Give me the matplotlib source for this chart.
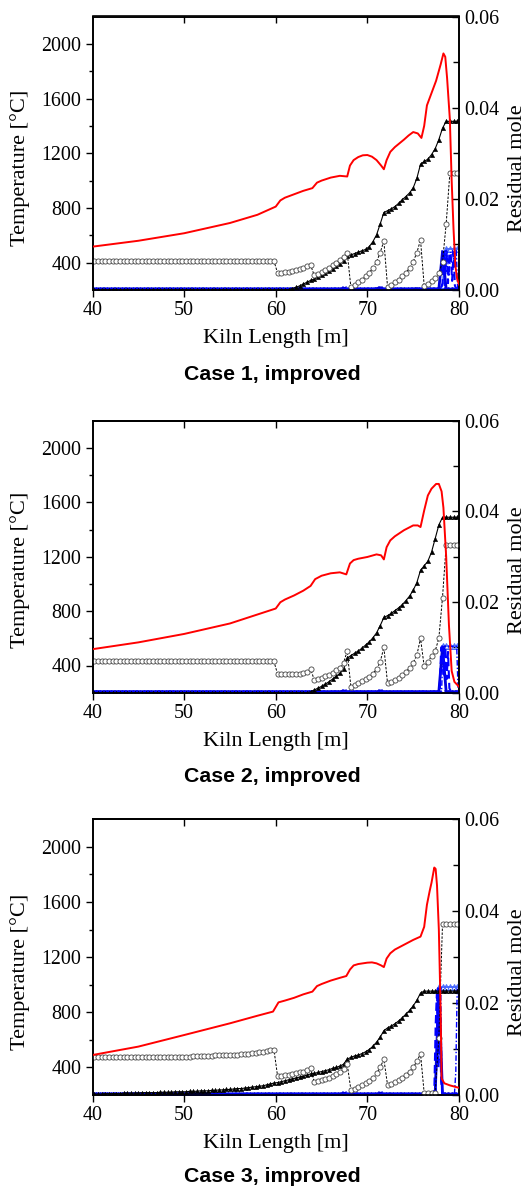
import numpy as np
import matplotlib
matplotlib.use("Agg")
import matplotlib.pyplot as plt
from matplotlib.ticker import FixedLocator

# ---------------- data ----------------
# sampling positions of the marker series (kiln length, m)
x_grid = np.round(np.arange(40.2, 79.81, 0.4), 1)

# ---- Case 1 ----
red_x1 = [40, 45, 50, 55, 58, 60, 60.5, 61, 62, 63, 64, 64.5, 65, 66, 67, 67.8, 68.1, 68.5, 69, 69.5,
          70, 70.5, 71, 71.5, 71.8, 72.1, 72.5, 73, 74, 74.5, 75, 75.5, 75.9, 76.2, 76.5, 77, 77.5, 78,
          78.3, 78.5, 78.7, 79.0, 79.2, 79.4, 79.6, 79.8, 80]
red_t1 = [517, 560, 615, 690, 750, 810, 855, 875, 900, 925, 945, 985, 1000, 1022, 1035, 1030, 1110, 1150, 1172, 1185,
          1187, 1175, 1150, 1110, 1083, 1150, 1210, 1245, 1300, 1330, 1355, 1345, 1312, 1400, 1550, 1640, 1730, 1850,
          1930, 1905, 1750, 1450, 1000, 650, 380, 280, 240]
circ1 = [0.0064, 0.0064, 0.0064, 0.0064, 0.0064, 0.0064, 0.0064, 0.0064, 0.0064, 0.0064,
         0.0064, 0.0064, 0.0064, 0.0064, 0.0064, 0.0064, 0.0064, 0.0064, 0.0064, 0.0064,
         0.0064, 0.0064, 0.0064, 0.0064, 0.0064, 0.0064, 0.0064, 0.0064, 0.0064, 0.0064,
         0.0064, 0.0064, 0.0064, 0.0064, 0.0064, 0.0064, 0.0064, 0.0064, 0.0064, 0.0064,
         0.0064, 0.0064, 0.0064, 0.0064, 0.0064, 0.0064, 0.0064, 0.0064, 0.0064, 0.0064,
         0.0037, 0.0038, 0.0039, 0.0040, 0.0042, 0.0044, 0.0046, 0.0049, 0.0052, 0.0055,
         0.0032, 0.0036, 0.0040, 0.0044, 0.0049, 0.0054, 0.0060, 0.0066, 0.0073, 0.0082,
         0.0006, 0.0012, 0.0017, 0.0023, 0.0030, 0.0038, 0.0048, 0.0062, 0.0082, 0.0108,
         0.0007, 0.0012, 0.0017, 0.0023, 0.0030, 0.0038, 0.0048, 0.0062, 0.0082, 0.0110,
         0.0009, 0.0014, 0.0020, 0.0027, 0.0037, 0.0062, 0.0145, 0.0256, 0.0256, 0.0256]
tri1 = [0.0, 0.0, 0.0, 0.0, 0.0, 0.0, 0.0, 0.0, 0.0, 0.0,
        0.0, 0.0, 0.0, 0.0, 0.0, 0.0, 0.0, 0.0, 0.0, 0.0,
        0.0, 0.0, 0.0, 0.0, 0.0, 0.0, 0.0, 0.0, 0.0, 0.0,
        0.0, 0.0, 0.0, 0.0, 0.0, 0.0, 0.0, 0.0, 0.0, 0.0,
        0.0, 0.0, 0.0, 0.0, 0.0, 0.0, 0.0, 0.0, 0.0, 0.0,
        0.0, 0.0, 0.0, 0.0001, 0.0003, 0.0006, 0.0009, 0.0013, 0.0017, 0.0021,
        0.0024, 0.0028, 0.0032, 0.0037, 0.0042, 0.0047, 0.0052, 0.0058, 0.0064, 0.0074,
        0.0077, 0.0080, 0.0083, 0.0086, 0.0089, 0.0095, 0.0106, 0.0121, 0.0145, 0.0170,
        0.0174, 0.0178, 0.0183, 0.0190, 0.0198, 0.0205, 0.0213, 0.0224, 0.0245, 0.0276,
        0.0282, 0.0287, 0.0297, 0.0310, 0.0330, 0.0355, 0.0370, 0.0370, 0.0370, 0.0370]
bx1 = [0.0002, 0.0002, 0.0002, 0.0002, 0.0002, 0.0002, 0.0002, 0.0002, 0.0002, 0.0002,
       0.0002, 0.0002, 0.0002, 0.0002, 0.0002, 0.0002, 0.0002, 0.0002, 0.0002, 0.0002,
       0.0002, 0.0002, 0.0002, 0.0002, 0.0002, 0.0002, 0.0002, 0.0002, 0.0002, 0.0002,
       0.0002, 0.0002, 0.0002, 0.0002, 0.0002, 0.0002, 0.0002, 0.0002, 0.0002, 0.0002,
       0.0002, 0.0002, 0.0002, 0.0002, 0.0002, 0.0002, 0.0002, 0.0002, 0.0002, 0.0002,
       0.0002, 0.0002, 0.0002, 0.0002, 0.0002, 0.0002, 0.0002, 0.0002, 0.0002, 0.0002,
       0.0002, 0.0002, 0.0002, 0.0002, 0.0002, 0.0002, 0.0002, 0.0002, 0.0004, 0.0002,
       0.0002, 0.0002, 0.0002, 0.0002, 0.0002, 0.0002, 0.0002, 0.0003, 0.0005, 0.0002,
       0.0002, 0.0002, 0.0002, 0.0002, 0.0002, 0.0002, 0.0002, 0.0002, 0.0003, 0.0002,
       0.0002, 0.0002, 0.0002, 0.0002, 0.0002, 0.0084, 0.0002, 0.0002, 0.0002, 0.0002]
btri1 = [0.0, 0.0, 0.0, 0.0, 0.0, 0.0, 0.0, 0.0, 0.0, 0.0,
         0.0, 0.0, 0.0, 0.0, 0.0, 0.0, 0.0, 0.0, 0.0, 0.0,
         0.0, 0.0, 0.0, 0.0, 0.0, 0.0, 0.0, 0.0, 0.0, 0.0,
         0.0, 0.0, 0.0, 0.0, 0.0, 0.0, 0.0, 0.0, 0.0, 0.0,
         0.0, 0.0, 0.0, 0.0, 0.0, 0.0, 0.0, 0.0, 0.0, 0.0,
         0.0, 0.0, 0.0, 0.0, 0.0, 0.0, 0.0, 0.0, 0.0, 0.0,
         0.0, 0.0, 0.0, 0.0, 0.0, 0.0, 0.0, 0.0, 0.0, 0.0,
         0.0, 0.0, 0.0, 0.0, 0.0, 0.0, 0.0, 0.0, 0.0, 0.0,
         0.0, 0.0, 0.0, 0.0, 0.0, 0.0, 0.0, 0.0, 0.0, 0.0,
         0.0, 0.0, 0.0, 0.0, 0.0, 0.0010, 0.0090, 0.0090, 0.0090, 0.0090]
dash_x1 = [40, 78.0, 78.2, 78.35, 78.5, 78.65, 78.8, 78.95, 79.1, 79.25, 79.4, 79.55, 79.7, 80]
dash_y1 = [0.0002, 0.0002, 0.0015, 0.0085, 0.0040, 0.0080, 0.0015, 0.0082, 0.0078, 0.0020, 0.0083, 0.0010, 0.0002, 0.0002]
dd_x1 = [40, 78.4, 78.55, 78.7, 78.9, 79.1, 79.3, 79.5, 79.7, 79.85, 80]
dd_y1 = [0.0001, 0.0001, 0.0086, 0.0086, 0.0030, 0.0086, 0.0086, 0.0050, 0.0086, 0.0005, 0.0001]

# ---- Case 2 ----
red_x2 = [40, 45, 50, 55, 58, 60, 60.5, 61, 62, 63, 63.8, 64.3, 65, 66, 67, 67.7, 68.1, 68.5, 69, 70,
          71, 71.5, 71.8, 72.1, 72.5, 73, 74, 75, 75.5, 75.8, 76.2, 76.6, 77, 77.5, 77.8, 78.1, 78.3,
          78.6, 78.9, 79.2, 79.5, 80]
red_t2 = [520, 570, 632, 709, 775, 819, 865, 885, 915, 950, 985, 1035, 1060, 1078, 1085, 1070, 1150, 1175, 1185, 1198,
          1217, 1210, 1180, 1270, 1320, 1350, 1395, 1430, 1430, 1418, 1540, 1650, 1700, 1735, 1735, 1680, 1560,
          1200, 700, 360, 280, 244]
circ2 = [0.0069, 0.0069, 0.0069, 0.0069, 0.0069, 0.0069, 0.0069, 0.0069, 0.0069, 0.0069,
         0.0069, 0.0069, 0.0069, 0.0069, 0.0069, 0.0069, 0.0069, 0.0069, 0.0069, 0.0069,
         0.0069, 0.0069, 0.0069, 0.0069, 0.0069, 0.0069, 0.0069, 0.0069, 0.0069, 0.0069,
         0.0069, 0.0069, 0.0069, 0.0069, 0.0069, 0.0069, 0.0069, 0.0069, 0.0069, 0.0069,
         0.0069, 0.0069, 0.0069, 0.0069, 0.0069, 0.0069, 0.0069, 0.0069, 0.0069, 0.0069,
         0.0041, 0.0041, 0.0041, 0.0041, 0.0041, 0.0041, 0.0042, 0.0043, 0.0046, 0.0053,
         0.0028, 0.0030, 0.0033, 0.0036, 0.0040, 0.0044, 0.0049, 0.0055, 0.0066, 0.0092,
         0.0013, 0.0017, 0.0021, 0.0025, 0.0030, 0.0035, 0.0042, 0.0052, 0.0068, 0.0100,
         0.0021, 0.0024, 0.0028, 0.0033, 0.0039, 0.0046, 0.0055, 0.0066, 0.0083, 0.0120,
         0.0058, 0.0068, 0.0080, 0.0092, 0.0120, 0.0210, 0.0326, 0.0326, 0.0326, 0.0326]
tri2 = [0.0, 0.0, 0.0, 0.0, 0.0, 0.0, 0.0, 0.0, 0.0, 0.0,
        0.0, 0.0, 0.0, 0.0, 0.0, 0.0, 0.0, 0.0, 0.0, 0.0,
        0.0, 0.0, 0.0, 0.0, 0.0, 0.0, 0.0, 0.0, 0.0, 0.0,
        0.0, 0.0, 0.0, 0.0, 0.0, 0.0, 0.0, 0.0, 0.0, 0.0,
        0.0, 0.0, 0.0, 0.0, 0.0, 0.0, 0.0, 0.0, 0.0, 0.0,
        0.0, 0.0, 0.0, 0.0, 0.0, 0.0, 0.0, 0.0, 0.0, 0.0002,
        0.0006, 0.0010, 0.0014, 0.0019, 0.0024, 0.0030, 0.0036, 0.0043, 0.0052, 0.0076,
        0.0082, 0.0087, 0.0092, 0.0098, 0.0105, 0.0112, 0.0121, 0.0132, 0.0148, 0.0166,
        0.0170, 0.0175, 0.0181, 0.0187, 0.0194, 0.0203, 0.0213, 0.0226, 0.0243, 0.0270,
        0.0280, 0.0290, 0.0310, 0.0340, 0.0370, 0.0387, 0.0387, 0.0387, 0.0387, 0.0387]
bx2 = [0.0002, 0.0002, 0.0002, 0.0002, 0.0002, 0.0002, 0.0002, 0.0002, 0.0002, 0.0002,
       0.0002, 0.0002, 0.0002, 0.0002, 0.0002, 0.0002, 0.0002, 0.0002, 0.0002, 0.0002,
       0.0002, 0.0002, 0.0002, 0.0002, 0.0002, 0.0002, 0.0002, 0.0002, 0.0002, 0.0002,
       0.0002, 0.0002, 0.0002, 0.0002, 0.0002, 0.0002, 0.0002, 0.0002, 0.0002, 0.0002,
       0.0002, 0.0002, 0.0002, 0.0002, 0.0002, 0.0002, 0.0002, 0.0002, 0.0002, 0.0002,
       0.0002, 0.0002, 0.0002, 0.0002, 0.0002, 0.0002, 0.0002, 0.0002, 0.0002, 0.0002,
       0.0002, 0.0002, 0.0002, 0.0002, 0.0002, 0.0002, 0.0002, 0.0002, 0.0004, 0.0002,
       0.0002, 0.0002, 0.0002, 0.0002, 0.0002, 0.0002, 0.0002, 0.0002, 0.0004, 0.0002,
       0.0002, 0.0002, 0.0002, 0.0002, 0.0002, 0.0002, 0.0002, 0.0002, 0.0002, 0.0002,
       0.0002, 0.0002, 0.0002, 0.0002, 0.0002, 0.0100, 0.0002, 0.0002, 0.0002, 0.0002]
btri2 = [0.0, 0.0, 0.0, 0.0, 0.0, 0.0, 0.0, 0.0, 0.0, 0.0,
         0.0, 0.0, 0.0, 0.0, 0.0, 0.0, 0.0, 0.0, 0.0, 0.0,
         0.0, 0.0, 0.0, 0.0, 0.0, 0.0, 0.0, 0.0, 0.0, 0.0,
         0.0, 0.0, 0.0, 0.0, 0.0, 0.0, 0.0, 0.0, 0.0, 0.0,
         0.0, 0.0, 0.0, 0.0, 0.0, 0.0, 0.0, 0.0, 0.0, 0.0,
         0.0, 0.0, 0.0, 0.0, 0.0, 0.0, 0.0, 0.0, 0.0, 0.0,
         0.0, 0.0, 0.0, 0.0, 0.0, 0.0, 0.0, 0.0, 0.0, 0.0,
         0.0, 0.0, 0.0, 0.0, 0.0, 0.0, 0.0, 0.0, 0.0, 0.0,
         0.0, 0.0, 0.0, 0.0, 0.0, 0.0, 0.0, 0.0, 0.0, 0.0,
         0.0, 0.0, 0.0, 0.0, 0.0, 0.0103, 0.0103, 0.0103, 0.0103, 0.0103]
dash_x2 = [40, 77.9, 78.05, 78.2, 78.35, 78.5, 78.65, 78.8, 78.95, 79.1, 79.3, 80]
dash_y2 = [0.0002, 0.0002, 0.0100, 0.0100, 0.0040, 0.0100, 0.0030, 0.0090, 0.0010, 0.0003, 0.0002, 0.0002]
dd_x2 = [40, 78.1, 78.25, 78.5, 79.0, 79.5, 79.75, 79.9, 80]
dd_y2 = [0.0001, 0.0001, 0.0102, 0.0102, 0.0102, 0.0102, 0.0102, 0.0005, 0.0001]

# ---- Case 3 ----
red_x3 = [40, 45, 50, 55, 58, 59.7, 60.3, 61, 62, 63, 64, 64.5, 65, 66, 67, 67.7, 68.1, 68.5, 69, 70,
          70.5, 71, 71.5, 71.8, 72.1, 72.5, 73, 74, 75, 75.8, 76.2, 76.5, 76.8, 77.0, 77.3, 77.45, 77.6,
          77.8, 78.0, 78.1, 78.4, 79, 80]
red_t3 = [490, 551, 635, 720, 775, 805, 872, 885, 905, 930, 950, 990, 1005, 1030, 1050, 1063, 1110, 1140, 1150, 1160,
          1162, 1155, 1140, 1128, 1190, 1228, 1255, 1290, 1325, 1349, 1420, 1580, 1680, 1740, 1850, 1840, 1720,
          1400, 800, 320, 285, 270, 252]
circ3 = [0.0082, 0.0082, 0.0082, 0.0082, 0.0082, 0.0082, 0.0082, 0.0082, 0.0082, 0.0082,
         0.0082, 0.0082, 0.0082, 0.0082, 0.0082, 0.0082, 0.0082, 0.0082, 0.0082, 0.0082,
         0.0082, 0.0082, 0.0082, 0.0083, 0.0083, 0.0083, 0.0083, 0.0084, 0.0084, 0.0084,
         0.0085, 0.0085, 0.0085, 0.0086, 0.0086, 0.0086, 0.0087, 0.0087, 0.0088, 0.0088,
         0.0089, 0.0089, 0.0090, 0.0091, 0.0092, 0.0093, 0.0094, 0.0095, 0.0097, 0.0099,
         0.0041, 0.0042, 0.0043, 0.0044, 0.0045, 0.0047, 0.0049, 0.0051, 0.0054, 0.0059,
         0.0028, 0.0030, 0.0032, 0.0035, 0.0038, 0.0041, 0.0045, 0.0050, 0.0056, 0.0067,
         0.0011, 0.0014, 0.0017, 0.0021, 0.0026, 0.0031, 0.0038, 0.0047, 0.0060, 0.0078,
         0.0022, 0.0025, 0.0029, 0.0033, 0.0038, 0.0044, 0.0051, 0.0060, 0.0073, 0.0090,
         0.0004, 0.0004, 0.0005, 0.0005, 0.0125, 0.0372, 0.0372, 0.0372, 0.0372, 0.0372]
tri3 = [0.0002, 0.0002, 0.0002, 0.0003, 0.0003, 0.0003, 0.0003, 0.0003, 0.0004, 0.0004,
        0.0004, 0.0004, 0.0004, 0.0005, 0.0005, 0.0005, 0.0005, 0.0005, 0.0006, 0.0006,
        0.0006, 0.0006, 0.0007, 0.0007, 0.0007, 0.0007, 0.0008, 0.0008, 0.0008, 0.0009,
        0.0009, 0.0009, 0.0010, 0.0010, 0.0011, 0.0011, 0.0012, 0.0012, 0.0013, 0.0014,
        0.0014, 0.0015, 0.0016, 0.0017, 0.0018, 0.0019, 0.0020, 0.0022, 0.0024, 0.0026,
        0.0027, 0.0029, 0.0031, 0.0033, 0.0035, 0.0037, 0.0039, 0.0041, 0.0043, 0.0046,
        0.0047, 0.0049, 0.0051, 0.0053, 0.0055, 0.0058, 0.0060, 0.0063, 0.0067, 0.0078,
        0.0082, 0.0085, 0.0087, 0.0090, 0.0094, 0.0099, 0.0106, 0.0115, 0.0126, 0.0140,
        0.0146, 0.0150, 0.0155, 0.0161, 0.0168, 0.0176, 0.0184, 0.0194, 0.0206, 0.0222,
        0.0226, 0.0226, 0.0226, 0.0226, 0.0226, 0.0226, 0.0226, 0.0226, 0.0226, 0.0226]
bx3 = [0.0002, 0.0002, 0.0002, 0.0002, 0.0002, 0.0002, 0.0002, 0.0002, 0.0002, 0.0002,
       0.0002, 0.0002, 0.0002, 0.0002, 0.0002, 0.0002, 0.0002, 0.0002, 0.0002, 0.0002,
       0.0002, 0.0002, 0.0002, 0.0002, 0.0002, 0.0002, 0.0002, 0.0002, 0.0002, 0.0002,
       0.0002, 0.0002, 0.0002, 0.0002, 0.0002, 0.0002, 0.0002, 0.0002, 0.0002, 0.0002,
       0.0002, 0.0002, 0.0002, 0.0002, 0.0002, 0.0002, 0.0002, 0.0002, 0.0002, 0.0002,
       0.0002, 0.0002, 0.0002, 0.0002, 0.0002, 0.0002, 0.0002, 0.0002, 0.0002, 0.0002,
       0.0002, 0.0002, 0.0002, 0.0002, 0.0002, 0.0002, 0.0002, 0.0002, 0.0004, 0.0002,
       0.0002, 0.0002, 0.0002, 0.0002, 0.0002, 0.0002, 0.0002, 0.0002, 0.0004, 0.0002,
       0.0002, 0.0002, 0.0002, 0.0002, 0.0002, 0.0002, 0.0002, 0.0002, 0.0002, 0.0002,
       0.0002, 0.0002, 0.0002, 0.0002, 0.0230, 0.0002, 0.0002, 0.0002, 0.0002, 0.0002]
btri3 = [0.0, 0.0, 0.0, 0.0, 0.0, 0.0, 0.0, 0.0, 0.0, 0.0,
         0.0, 0.0, 0.0, 0.0, 0.0, 0.0, 0.0, 0.0, 0.0, 0.0,
         0.0, 0.0, 0.0, 0.0, 0.0, 0.0, 0.0, 0.0, 0.0, 0.0,
         0.0, 0.0, 0.0, 0.0, 0.0, 0.0, 0.0, 0.0, 0.0, 0.0,
         0.0, 0.0, 0.0, 0.0, 0.0, 0.0, 0.0, 0.0, 0.0, 0.0,
         0.0, 0.0, 0.0, 0.0, 0.0, 0.0, 0.0, 0.0, 0.0, 0.0,
         0.0, 0.0, 0.0, 0.0, 0.0, 0.0, 0.0, 0.0, 0.0, 0.0,
         0.0, 0.0, 0.0, 0.0, 0.0, 0.0, 0.0, 0.0, 0.0, 0.0,
         0.0, 0.0, 0.0, 0.0, 0.0, 0.0, 0.0, 0.0, 0.0, 0.0,
         0.0, 0.0, 0.0, 0.0002, 0.0235, 0.0235, 0.0235, 0.0235, 0.0235, 0.0235]
dash_x3 = [40, 77.3, 77.45, 77.6, 77.75, 77.9, 78.05, 78.2, 80]
dash_y3 = [0.0002, 0.0002, 0.0150, 0.0230, 0.0060, 0.0200, 0.0030, 0.0002, 0.0002]
dd_x3 = [40, 77.5, 77.65, 77.8, 78.0, 78.15, 78.3, 79.5, 79.65, 79.8, 79.95, 80]
dd_y3 = [0.0001, 0.0001, 0.0232, 0.0100, 0.0232, 0.0010, 0.0001, 0.0001, 0.0050, 0.0232, 0.0232, 0.0001]

titles = ["Case 1, improved", "Case 2, improved", "Case 3, improved"]
temp_ticks = [400, 800, 1200, 1600, 2000]
mole_ticks = [0.00, 0.02, 0.04, 0.06]
x_ticks = [40, 50, 60, 70, 80]

# ---------------- drawing ----------------
W, H = 531, 1189
fig = plt.figure(figsize=(W / 100, H / 100), dpi=100)
SERIF = ["Liberation Serif", "DejaVu Serif"]
SANS = ["Liberation Sans", "DejaVu Sans"]

panels = [
    dict(top=16.5, bot=290.0, red=(red_x1, red_t1), circ=circ1, tri=tri1, bx=bx1, btri=btri1,
         dash=(dash_x1, dash_y1), dd=(dd_x1, dd_y1), title_y=375.0, ylab_y=168.0),
    dict(top=420.7, bot=692.7, red=(red_x2, red_t2), circ=circ2, tri=tri2, bx=bx2, btri=btri2,
         dash=(dash_x2, dash_y2), dd=(dd_x2, dd_y2), title_y=776.7, ylab_y=570.0),
    dict(top=819.3, bot=1095.0, red=(red_x3, red_t3), circ=circ3, tri=tri3, bx=bx3, btri=btri3,
         dash=(dash_x3, dash_y3), dd=(dd_x3, dd_y3), title_y=1176.7, ylab_y=972.0),
]

left_px, right_px = 92.5, 459.0

for i, p in enumerate(panels):
    rect = [left_px / W, 1 - p["bot"] / H, (right_px - left_px) / W, (p["bot"] - p["top"]) / H]
    ax = fig.add_axes(rect)
    ax2 = ax.twinx()
    ax.set_zorder(ax2.get_zorder() + 1)
    ax.patch.set_visible(False)

    # right-axis (residual mole) series
    ax2.plot(x_grid, p["btri"], '-', color='#3355ff', lw=1.2, marker='^', ms=3.8,
             mfc='none', mec='#4466ff', mew=0.7, zorder=2)
    ax2.plot(x_grid, p["bx"], '-', color='#0000dd', lw=2.0, marker='x', ms=3.2, mew=0.9, zorder=3)
    ax2.plot(p["dash"][0], p["dash"][1], color='#0000ff', lw=1.5, dashes=(4, 2), zorder=3)
    ax2.plot(p["dd"][0], p["dd"][1], color='#0000ff', lw=1.0, dashes=(4, 1.5, 1, 1.5), zorder=3)
    ax2.plot(x_grid, p["tri"], '-', color='black', lw=0.8, marker='^', ms=3.2,
             mfc='black', mec='black', mew=0.3, zorder=4)
    ax2.plot(x_grid, p["circ"], color='black', lw=0.7, dashes=(2.5, 1.5), marker='o', ms=3.7,
             mfc='white', mec='#444444', mew=0.6, zorder=5)

    # left-axis (temperature)
    ax.plot(p["red"][0], p["red"][1], color='#ff0000', lw=1.4, zorder=6)

    ax.set_xlim(40, 80)
    ax.set_ylim(200, 2200)
    ax2.set_ylim(0, 0.06)

    ax.set_xticks(x_ticks)
    ax.set_xticklabels([str(v) for v in x_ticks], fontfamily=SERIF, fontsize=14.4)
    ax.set_yticks(temp_ticks)
    ax.set_yticklabels([str(v) for v in temp_ticks], fontfamily=SERIF, fontsize=14.4)
    ax.yaxis.set_minor_locator(FixedLocator([600, 1000, 1400, 1800]))
    ax2.set_yticks(mole_ticks)
    ax2.set_yticklabels(["%.2f" % v for v in mole_ticks], fontfamily=SERIF, fontsize=14.4)
    ax2.yaxis.set_minor_locator(FixedLocator([0.01, 0.03, 0.05]))

    ax.tick_params(axis='x', which='both', direction='out', length=5, width=1.0,
                   top=False, bottom=True, pad=3)
    ax.tick_params(axis='y', which='major', direction='out', length=5, width=1.0, pad=3)
    ax.tick_params(axis='y', which='minor', direction='out', length=3, width=1.0)
    ax2.tick_params(axis='y', which='major', direction='in', length=5, width=1.0, pad=4)
    ax2.tick_params(axis='y', which='minor', direction='in', length=4, width=1.0)

    sec = ax.secondary_xaxis('top')
    sec.set_xticks([50, 60, 70])
    sec.tick_params(direction='in', length=5, width=1.0, labeltop=False)
    sec.spines['top'].set_linewidth(1.2)

    for sp in ax.spines.values():
        sp.set_linewidth(1.2)
    for sp in ax2.spines.values():
        sp.set_linewidth(1.2)

    # labels
    cx = (left_px + right_px) / 2 / W
    fig.text(cx, 1 - (p["bot"] + 48.5) / H, "Kiln Length [m]", ha='center', va='center',
             fontfamily=SERIF, fontsize=16)
    fig.text(20.0 / W, 1 - p["ylab_y"] / H, "Temperature [°C]", ha='center', va='center',
             rotation=90, fontfamily=SERIF, fontsize=16)
    fig.text(518.0 / W, 1 - p["ylab_y"] / H, "Residual mole", ha='center', va='center',
             rotation=90, fontfamily=SERIF, fontsize=16)
    fig.text(272.0 / W, 1 - p["title_y"] / H, titles[i], ha='center', va='center',
             fontfamily=SANS, fontweight='bold', fontsize=15.3)

fig.savefig("out.png", dpi=100)
